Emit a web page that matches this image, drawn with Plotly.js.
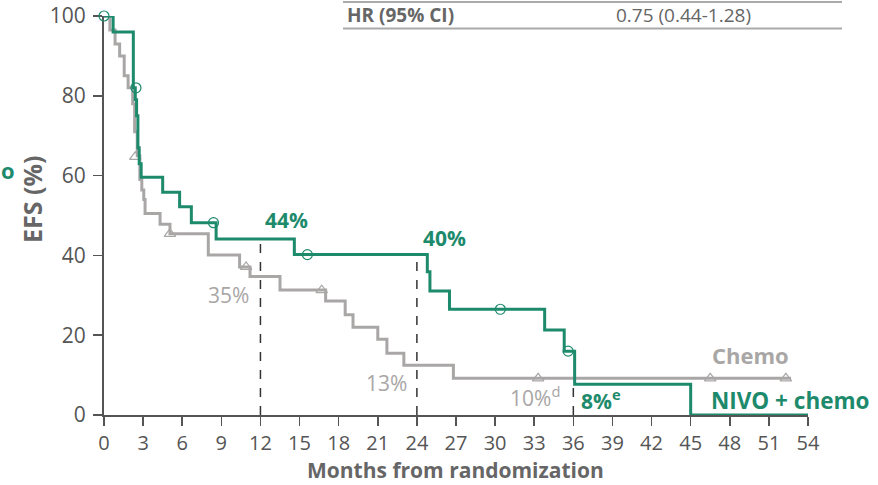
<!DOCTYPE html>
<html>
<head>
<meta charset="utf-8">
<script src="https://cdn.plot.ly/plotly-3.0.1.min.js"></script>
<style>html,body{margin:0;padding:0;background:#fff;}#chart{width:878px;height:485px;}</style>
</head>
<body>
<div id="chart"></div>
<script>
// NIVO + chemo KM steps (time in months, EFS %)
const nivoTime = [0, 0.7, 2.25, 2.4, 2.5, 2.6, 2.7, 2.85, 4.5, 5.8, 6.7, 8.6, 14.6, 24.8, 25.0, 26.5, 33.8, 35.3, 36.1, 45.0, 54];
const nivoEFS  = [100, 96, 82, 79, 75, 67, 63, 59.6, 55.8, 52.2, 48.2, 44.1, 40.2, 35.9, 31.1, 26.5, 21.3, 16.0, 7.7, 0, 0];
const nivoCensorTime = [0, 2.45, 8.4, 15.6, 30.4, 35.6];
const nivoCensorEFS  = [100, 82, 48.2, 40.2, 26.5, 16.0];

// Chemo KM steps
const chemoTime = [0, 0.45, 0.85, 1.2, 1.55, 1.85, 2.2, 2.35, 2.55, 2.75, 2.9, 3.05, 3.15, 4.3, 5.06, 8.0, 10.4, 11.2, 13.5, 17.0, 18.5, 19.1, 21.0, 21.7, 23.0, 26.8, 52.7];
const chemoEFS  = [100, 96.5, 93, 90, 85, 82, 78, 71, 65, 59, 56.4, 54, 50.5, 47.8, 45.4, 40.1, 37.1, 34.7, 31.3, 28.6, 25.1, 22.0, 19.0, 15.5, 12.5, 9.2, 9.2];
const chemoCensorTime = [2.4, 5.06, 10.9, 16.7, 33.3, 46.5, 52.3];
const chemoCensorEFS  = [64.7, 45.4, 37.1, 31.3, 9.2, 9.2, 9.2];

// Landmarks
const landmarkTime = [12, 24, 36];
const landmarkNivo = [44, 40, 8];

const xTicks = [0,3,6,9,12,15,18,21,24,27,30,33,36,39,42,45,48,51,54];
const yTicks = [0,20,40,60,80,100];

const GREEN = '#1d8a6c';
const GRAY = '#a9a6a6';
const AXIS = '#555555';
const TXT = '#666666';
const FONT = 'Open Sans, Noto Sans, sans-serif';

// pixel helpers for paper coords (plot area 104..808 x, 16..415 y)
const L = 104, R = 808, T = 16, B = 415;
const px = v => (v - L) / (R - L);
const py = v => (B - v) / (B - T);

const traces = [
  {x: chemoTime, y: chemoEFS, mode: 'lines', line: {shape: 'hv', color: GRAY, width: 3}, cliponaxis: false, hoverinfo: 'skip'},
  {x: chemoCensorTime, y: chemoCensorEFS, mode: 'markers', marker: {symbol: 'triangle-up-open', size: 10, color: GRAY, line: {width: 1.2}}, cliponaxis: false},
  {x: nivoTime, y: nivoEFS, mode: 'lines', line: {shape: 'hv', color: GREEN, width: 3}, cliponaxis: false, hoverinfo: 'skip'},
  {x: nivoCensorTime, y: nivoCensorEFS, mode: 'markers', marker: {symbol: 'circle-open', size: 10, color: GREEN, line: {width: 1.2}}, cliponaxis: false}
];

const shapes = landmarkTime.map((t, i) => ({
  type: 'line', xref: 'x', yref: 'y', x0: t, x1: t, y0: 0, y1: landmarkNivo[i],
  line: {color: '#333', width: 1.5, dash: 'dash'}, layer: 'below'
}));
shapes.push({type: 'line', xref: 'paper', yref: 'paper', x0: px(343), x1: px(842), y0: py(2), y1: py(2), line: {color: '#aaaaaa', width: 2}});
shapes.push({type: 'line', xref: 'paper', yref: 'paper', x0: px(343), x1: px(842), y0: py(28.5), y1: py(28.5), line: {color: '#aaaaaa', width: 2}});

function ann(text, x, y, color, size, bold, extra) {
  return Object.assign({
    text: bold ? '<b>' + text + '</b>' : text,
    xref: 'paper', yref: 'paper', x: px(x), y: py(y),
    xanchor: 'center', yanchor: 'middle', showarrow: false,
    font: {family: FONT, size: size, color: color}
  }, extra || {});
}

const annotations = [
  ann('HR (95% CI)', 400, 15, TXT, 19, true),
  ann('0.75 (0.44-1.28)', 683, 15, TXT, 19, false),
  ann('44%', 286, 220, GREEN, 21, true),
  ann('40%', 444, 238, GREEN, 21, true),
  ann('35%', 228, 295, GRAY, 21, false),
  ann('13%', 386, 383, GRAY, 21, false),
  ann('10%<sup>d</sup>', 535, 396, GRAY, 21, false),
  ann('8%<sup>e</sup>', 601, 399, GREEN, 21, true),
  ann('Chemo', 750, 355, GRAY, 22, true),
  ann('NIVO + chemo', 790, 400, GREEN, 22.5, true),
  ann('EFS (%)', 32, 200, TXT, 25, true, {textangle: -90}),
  ann('Months from randomization', 455, 470, TXT, 21, true, {yanchor: 'middle', height: 22}),
  ann('o', 8, 170, GREEN, 22, true)
];

const layout = {
  width: 878, height: 485,
  margin: {l: L, r: 878 - R, t: T, b: 485 - B, pad: 0},
  paper_bgcolor: '#ffffff', plot_bgcolor: '#ffffff',
  showlegend: false,
  xaxis: {
    range: [0, 54], tickvals: xTicks, ticktext: xTicks.map(String),
    showgrid: false, zeroline: false, showline: true, linecolor: AXIS, linewidth: 2,
    ticks: 'outside', ticklen: 9, tickwidth: 1.5, tickcolor: AXIS,
    tickfont: {family: FONT, size: 20, color: AXIS}, layer: 'below traces', fixedrange: true
  },
  yaxis: {
    range: [0, 100], tickvals: yTicks, ticktext: yTicks.map(String),
    showgrid: false, zeroline: false, showline: true, linecolor: AXIS, linewidth: 2,
    ticks: 'outside', ticklen: 9, tickwidth: 1.5, tickcolor: AXIS, ticklabelstandoff: 3,
    tickfont: {family: FONT, size: 21, color: AXIS}, layer: 'below traces', fixedrange: true
  },
  shapes: shapes,
  annotations: annotations
};

Plotly.newPlot('chart', traces, layout, {displayModeBar: false, staticPlot: true});
</script>
</body>
</html>
